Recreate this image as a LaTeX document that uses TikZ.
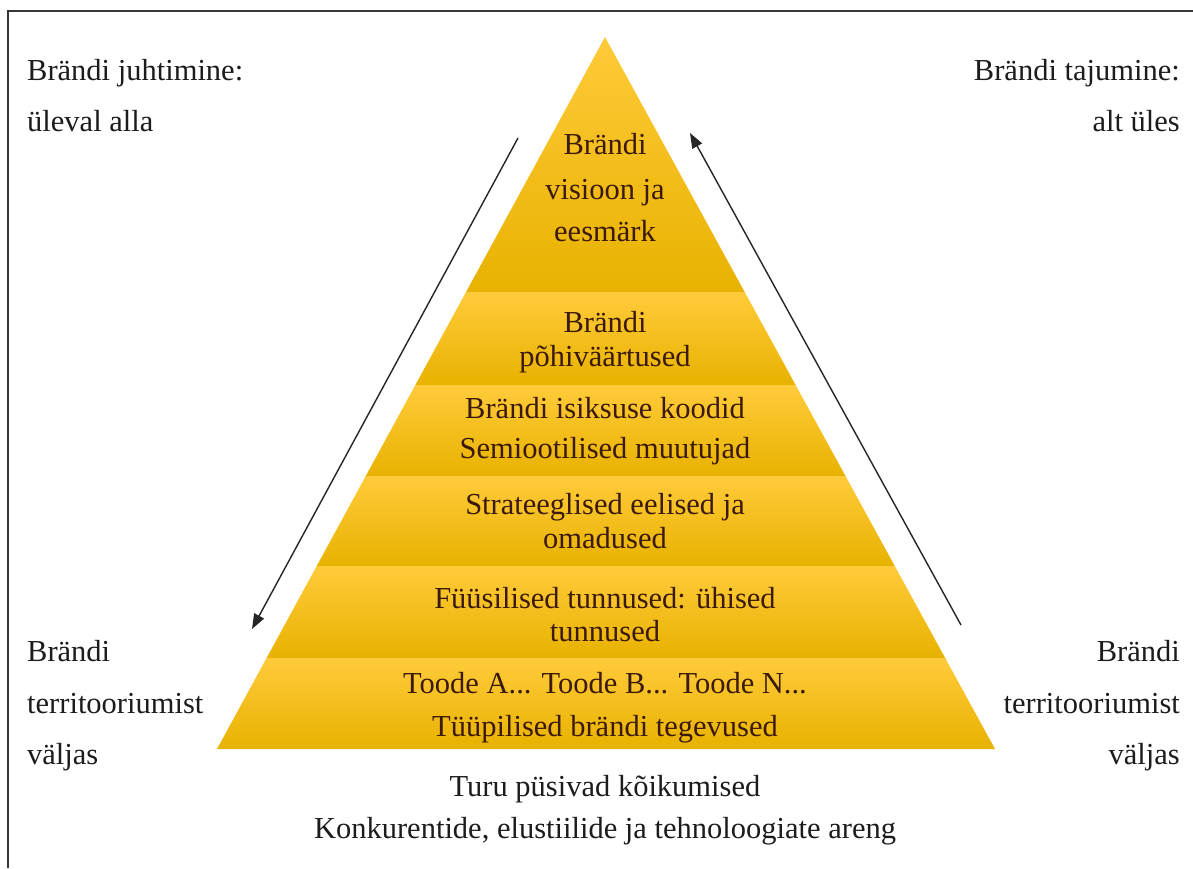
\documentclass[tikz,border=0pt]{standalone}
\usepackage{fontspec}
\setmainfont{Liberation Serif}
\usetikzlibrary{arrows.meta}
\definecolor{inktext}{RGB}{60,26,10}
\definecolor{outtext}{RGB}{28,28,28}
\definecolor{layertop}{RGB}{255,203,58}
\definecolor{layerbot}{RGB}{232,178,0}
\definecolor{framecol}{RGB}{55,55,55}
\begin{document}
\begin{tikzpicture}[x=1pt,y=-1pt,
  txt/.style={font=\fontsize{30.5}{36}\selectfont, inner sep=0pt},
  lbl/.style={txt, text=inktext, anchor=base},
  sidel/.style={txt, text=outtext, anchor=base west},
  sider/.style={txt, text=outtext, anchor=base east},
  sidec/.style={txt, text=outtext, anchor=base},
  layer/.style={top color=layertop, bottom color=layerbot, draw=none},
  flow/.style={draw=black!85, line width=1.4pt, -{Triangle[length=15pt,width=11pt]}}]
\useasboundingbox (0,0) rectangle (1193,868);
\fill[white] (0,0) rectangle (1193,868);
% frame (top and left edges)
\draw[line width=1.6pt, draw=framecol] (8,868) -- (8,11) -- (1193,11);

% pyramid layers
\coordinate (apex) at (605,37);
\coordinate (baseL) at (217,749);
\coordinate (baseR) at (995,749);
\begin{scope}
  \clip (apex) -- (baseL) -- (baseR) -- cycle;
  \shade[layer] (200,30) rectangle (1010,292);
  \shade[layer] (200,292) rectangle (1010,385);
  \shade[layer] (200,385) rectangle (1010,476);
  \shade[layer] (200,476) rectangle (1010,566);
  \shade[layer] (200,566) rectangle (1010,658);
  \shade[layer] (200,658) rectangle (1010,749);
\end{scope}

% layer texts
\node[lbl] (l1a) at (605,154) {Brändi};
\node[lbl] (l1b) at (605,199) {visioon ja};
\node[lbl] (l1c) at (605,241) {eesmärk};
\node[lbl] (l2a) at (605,332) {Brändi};
\node[lbl] (l2b) at (605,366) {põhiväärtused};
\node[lbl] (l3a) at (605,418) {Brändi isiksuse koodid};
\node[lbl] (l3b) at (605,458) {Semiootilised muutujad};
\node[lbl] (l4a) at (605,514) {Strateeglised eelised ja};
\node[lbl] (l4b) at (605,548) {omadused};
\node[lbl] (l5a) at (605,608) {Füüsilised tunnused: ühised};
\node[lbl] (l5b) at (605,641) {tunnused};
\node[lbl] (l6a) at (605,693) {Toode A... Toode B... Toode N...};
\node[lbl] (l6b) at (605,736) {Tüüpilised brändi tegevused};

% texts around the pyramid
\node[sidel] (tl1) at (27,80) {Brändi juhtimine:};
\node[sidel] (tl2) at (27,131) {üleval alla};
\node[sider] (tr1) at (1180,80) {Brändi tajumine:};
\node[sider] (tr2) at (1180,131) {alt üles};
\node[sidel] (bl1) at (27,661) {Brändi};
\node[sidel] (bl2) at (27,713) {territooriumist};
\node[sidel] (bl3) at (27,764) {väljas};
\node[sider] (br1) at (1180,661) {Brändi};
\node[sider] (br2) at (1180,713) {territooriumist};
\node[sider] (br3) at (1180,764) {väljas};
\node[sidec] (bt1) at (605,796) {Turu püsivad kõikumised};
\node[sidec] (bt2) at (605,838) {Konkurentide, elustiilide ja tehnoloogiate areng};

% direction arrows
\coordinate (downA) at (518,138);
\coordinate (downB) at (252,629);
\coordinate (upA) at (961,625);
\coordinate (upB) at (690,133);
\draw[flow] (downA) -- (downB);
\draw[flow] (upA) -- (upB);
\end{tikzpicture}
\end{document}
